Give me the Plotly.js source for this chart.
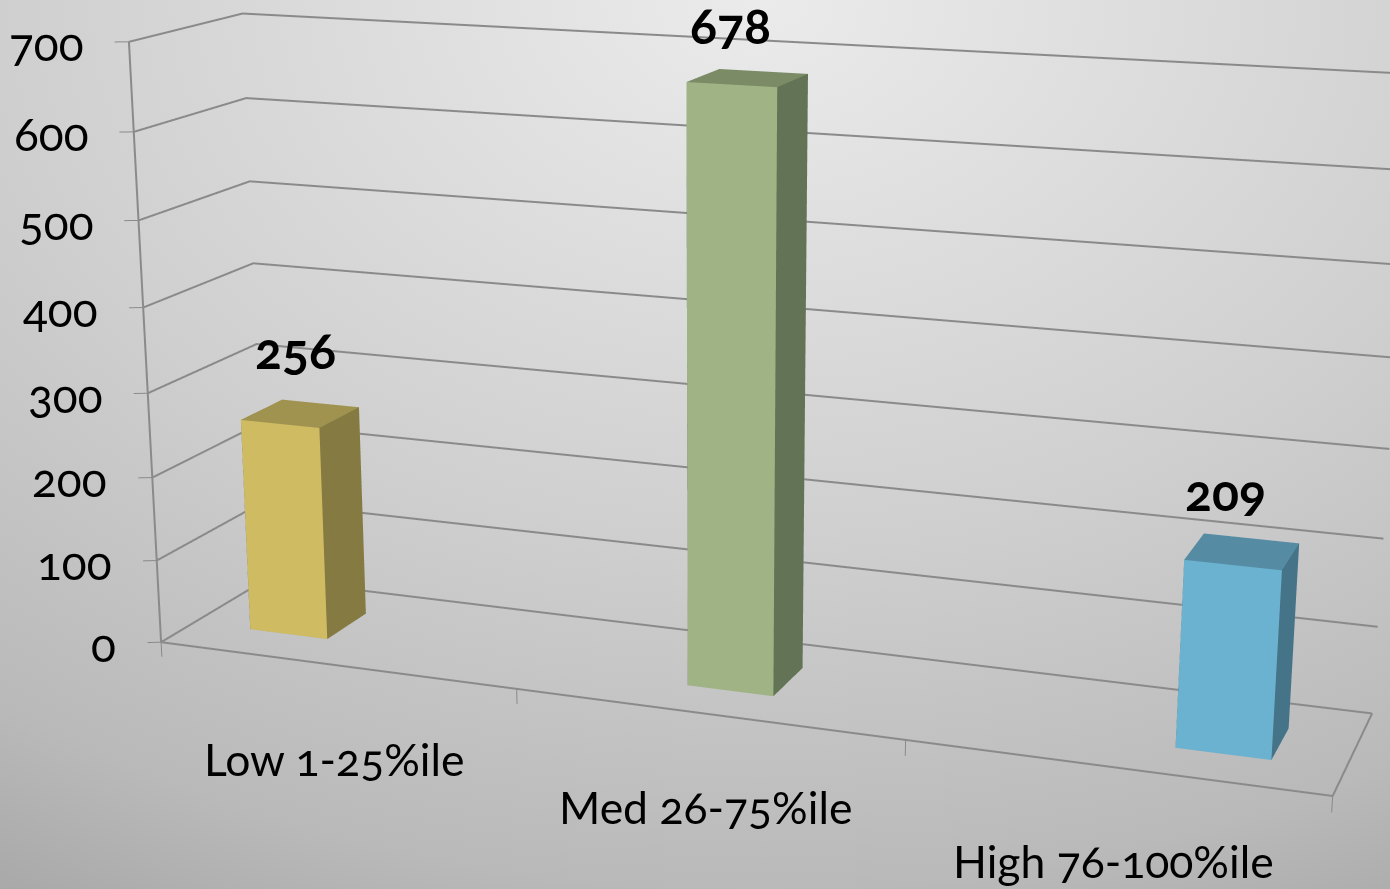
<!DOCTYPE html>
<html><head><meta charset="utf-8">
<script src="https://cdn.plot.ly/plotly-3.0.1.min.js"></script>
<style>
html,body{margin:0;padding:0;width:1390px;height:889px;overflow:hidden;
 background:radial-gradient(ellipse 1400px 1000px at 760px 0,#ebebeb 0,#cfcfcf 54%,#b9b9b9 89%,#a9a9a9 104%)}
#chart{position:absolute;left:-10px;top:-766px}
svg text{font-feature-settings:"onum" 1}
</style></head><body><div id="chart"></div>
<script>
// Chart data
const categories = ['Low 1-25%ile', 'Med 26-75%ile', 'High 76-100%ile'];
const values = [256, 678, 209];
const valueTicks = [0, 100, 200, 300, 400, 500, 600, 700];
const categoryTicks = [0, 1/3, 2/3, 1];

// Per-series colours: front face, side face, top face
const frontColors = ['#cfbb62', '#9fb384', '#6ab2cf'];
const sideColors = ['#857a42', '#637356', '#457388'];
const topColors = ['#a09350', '#7a8b66', '#558ca3'];

// Offsets of the value labels above each column, in pixels
const labelDx = [-5, -17, -17];
const labelDy = [64, 53, 60];

// Column geometry in floor units (0..1 across, 0..1 in depth)
const BAR_SPACING = 0.4069, BAR_MIDDLE = 0.4991, BAR_HALF = 0.0374, BAR_FRONT = 0.305, BAR_BACK = 0.695;
const barCenter = i => BAR_MIDDLE + (i - 1) * BAR_SPACING;

// Axis limits, a little past the floor so that nothing sits on a clipping plane
const X_RANGE = [-0.012, 1.02], Y_RANGE = [-0.03, 1.02], Z_RANGE = [-20, 720];
const TICK_DX = -0.0105, TICK_DY = -0.0259, TICK_DZ = -18;

// Camera for the oblique view, given for a unit floor box, then shifted for the padded ranges
const BOX = {x: 1.9448, y: 0.3664, z: 1};
const mid = r => (r[0] + r[1]) / 2, span = r => r[1] - r[0];
const shift = {
  x: (0.5 - mid(X_RANGE)) * BOX.x,
  y: (0.5 - mid(Y_RANGE)) * BOX.y,
  z: 0.5 - mid(Z_RANGE) / 700
};
const CHART_W = 1442, CHART_H = 2530;

const LINE = '#8a8a8a';
const line = (x, y, z, width) => ({
  type: 'scatter3d', mode: 'lines', x, y, z, hoverinfo: 'skip', showlegend: false,
  line: {color: LINE, width}
});

const traces = [];

// Gridlines run along the left wall and then the back wall
valueTicks.forEach(v => traces.push(line([0, 0, 1], [0, 1, 1], [v, v, v], 4)));
// Floor outline and the value axis
traces.push(line([0, 1, 1], [0, 0, 1], [0, 0, 0], 4));
traces.push(line([0, 0], [0, 0], [0, 700], 4));
// Tick marks
valueTicks.forEach(v => traces.push(line([0, TICK_DX], [0, TICK_DY], [v, v], 2)));
categoryTicks.forEach(u => traces.push(line([u, u], [0, 0], [0, TICK_DZ], 2)));

// One box per category; the eight corners come from the category position and its value
values.forEach((v, i) => {
  const x0 = barCenter(i) - BAR_HALF, x1 = barCenter(i) + BAR_HALF;
  const y0 = BAR_FRONT, y1 = BAR_BACK;
  const f = frontColors[i], s = sideColors[i], t = topColors[i];
  traces.push({
    type: 'mesh3d', name: categories[i], hoverinfo: 'skip', flatshading: true,
    x: [x0, x1, x1, x0, x0, x1, x1, x0],
    y: [y0, y0, y1, y1, y0, y0, y1, y1],
    z: [0, 0, 0, 0, v, v, v, v],
    i: [0, 0, 1, 1, 4, 4, 0, 0, 2, 2, 0, 0],
    j: [1, 5, 2, 6, 5, 6, 4, 7, 3, 7, 2, 3],
    k: [5, 4, 6, 5, 6, 7, 7, 3, 7, 6, 1, 2],
    facecolor: [f, f, s, s, t, t, s, s, s, s, s, s],
    lighting: {ambient: 1, diffuse: 0, specular: 0, roughness: 1, fresnel: 0}
  });
});

const FONT = 'Lato, "Noto Sans", sans-serif';
const annotations = [];
valueTicks.forEach(v => annotations.push({
  x: 0, y: 0, z: v, text: String(v), showarrow: false, xanchor: 'right', xshift: -43, yshift: -2,
  font: {family: FONT, size: 46, color: '#000'}
}));
categories.forEach((c, i) => annotations.push({
  x: categoryTicks[i] + 1/6, y: 0, z: 0, text: c, showarrow: false, xshift: -1, yshift: -93,
  font: {family: FONT, size: 44.5, color: '#000'}
}));
values.forEach((v, i) => annotations.push({
  x: barCenter(i), y: 0.5, z: v, text: '<b>' + v + '</b>', showarrow: false,
  xshift: labelDx[i], yshift: labelDy[i],
  font: {family: FONT, size: 50, color: '#000'}
}));

const hidden = range => ({visible: false, range});

Plotly.newPlot('chart', traces, {
  width: CHART_W, height: CHART_H, margin: {l: 0, r: 0, t: 0, b: 0},
  paper_bgcolor: 'rgba(0,0,0,0)', showlegend: false,
  scene: {
    domain: {x: [0, 1], y: [0, 1]}, bgcolor: 'rgba(0,0,0,0)',
    aspectmode: 'manual',
    aspectratio: {x: BOX.x * span(X_RANGE), y: BOX.y * span(Y_RANGE), z: BOX.z * span(Z_RANGE) / 700},
    camera: {
      eye: {x: 1.5769 + shift.x, y: -4.3752 + shift.y, z: 1.1682 + shift.z},
      center: {x: 0.1854 + shift.x, y: -0.6593 + shift.y, z: shift.z},
      up: {x: -0.2417, y: 0.6449, z: 1}
    },
    xaxis: hidden(X_RANGE), yaxis: hidden(Y_RANGE), zaxis: hidden(Z_RANGE),
    annotations
  }
}, {displayModeBar: false});
</script></body></html>
